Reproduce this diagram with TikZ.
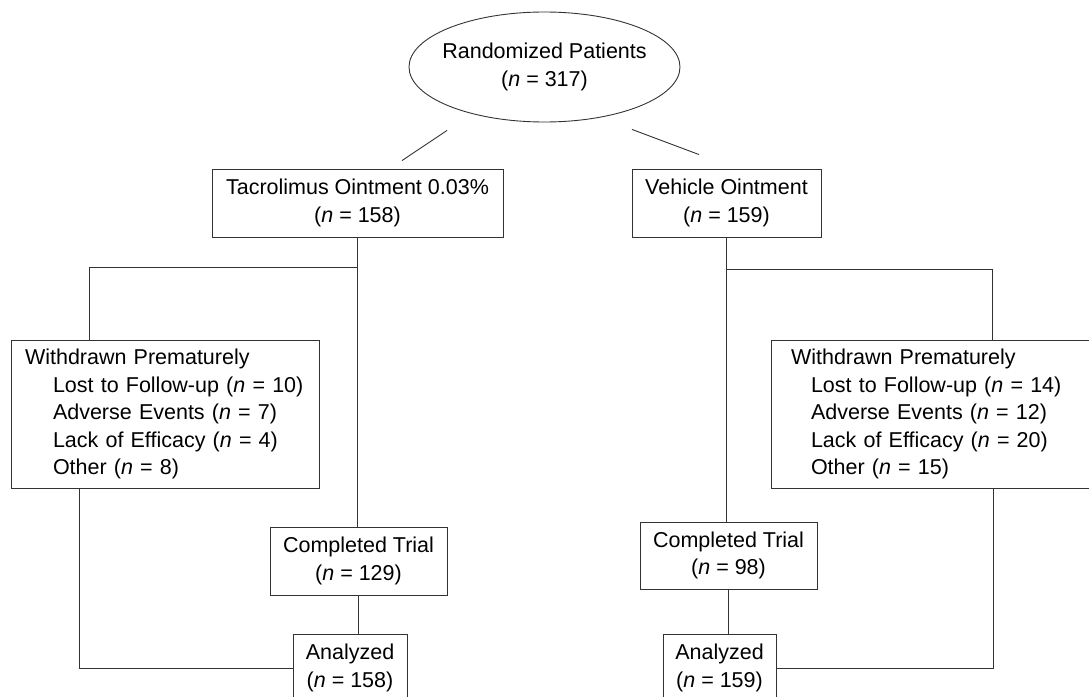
\documentclass[tikz,border=0pt]{standalone}
\usepackage{fontspec}
\setmainfont{Liberation Sans}
\usetikzlibrary{shapes.geometric,calc}

\begin{document}
\begin{tikzpicture}[x=1pt,y=1pt,
    every node/.style={font=\fontsize{21.5}{27.5}\selectfont},
    box/.style={draw=black!80, line width=0.9pt, align=center, minimum height=68pt, inner sep=0pt},
    wdbox/.style={draw=black!80, line width=0.9pt, align=left, minimum height=148pt, inner ysep=0pt},
    link/.style={draw=black!80, line width=0.9pt}]
    \useasboundingbox (0,0) rectangle (1089,-696);

    % Randomization
    \node[draw=black!80, line width=0.9pt, ellipse, minimum width=271pt, minimum height=110pt, inner xsep=-7pt, align=center] (rand) at (544.5,-67) {Randomized Patients\\(\textit{n} = 317)};

    % Tacrolimus arm
    \node[box, minimum width=291pt] (tac) at (357.5,-203) {Tacrolimus Ointment 0.03\%\\(\textit{n} = 158)};
    \node[wdbox, text width=280pt, inner xsep=14pt] (wdtac) at (165,-414) {Withdrawn Prematurely\\
        \hspace*{28pt}Lost to Follow-up (\textit{n} = 10)\\
        \hspace*{28pt}Adverse Events (\textit{n} = 7)\\
        \hspace*{28pt}Lack of Efficacy (\textit{n} = 4)\\
        \hspace*{28pt}Other (\textit{n} = 8)};
    \node[box, minimum width=177pt] (comptac) at (358.5,-561) {Completed Trial\\(\textit{n} = 129)};
    \node[box, minimum width=114pt] (anatac) at (350,-668) {Analyzed\\(\textit{n} = 158)};

    % Vehicle arm
    \node[box, minimum width=189pt] (veh) at (726.5,-203) {Vehicle Ointment\\(\textit{n} = 159)};
    \node[wdbox, text width=299pt, inner xsep=20pt] (wdveh) at (940.5,-414) {Withdrawn Prematurely\\
        \hspace*{20pt}Lost to Follow-up (\textit{n} = 14)\\
        \hspace*{20pt}Adverse Events (\textit{n} = 12)\\
        \hspace*{20pt}Lack of Efficacy (\textit{n} = 20)\\
        \hspace*{20pt}Other (\textit{n} = 15)};
    \node[box, minimum width=177pt, minimum height=67pt] (compveh) at (728.5,-555.5) {Completed Trial\\(\textit{n} = 98)};
    \node[box, minimum width=113pt] (anaveh) at (719.5,-668) {Analyzed\\(\textit{n} = 159)};

    % Split lines
    \draw[link] ([xshift=-97.5pt,yshift=-8pt]rand.south) -- ([xshift=44.5pt,yshift=8pt]tac.north);
    \draw[link] ([xshift=87.5pt,yshift=-7pt]rand.south) -- ([xshift=-27.5pt,yshift=14pt]veh.north);

    % Tacrolimus flow
    \coordinate (tacsplit) at ($(tac.south)+(0,-30)$);
    \draw[link] (tac.south) -- (tac.south |- comptac.north);
    \draw[link] (tacsplit) -| ([xshift=-76pt]wdtac.north);
    \draw[link] (comptac.south) -- (comptac.south |- anatac.north);
    \draw[link] ([xshift=-86pt]wdtac.south) |- (anatac.west);

    % Vehicle flow
    \coordinate (vehsplit) at ($(veh.south)+(0,-32)$);
    \draw[link] (veh.south) -- (veh.south |- compveh.north);
    \draw[link] (vehsplit) -| ([xshift=51.5pt]wdveh.north);
    \draw[link] (compveh.south) -- (compveh.south |- anaveh.north);
    \draw[link] ([xshift=52.5pt]wdveh.south) |- (anaveh.east);
\end{tikzpicture}
\end{document}
